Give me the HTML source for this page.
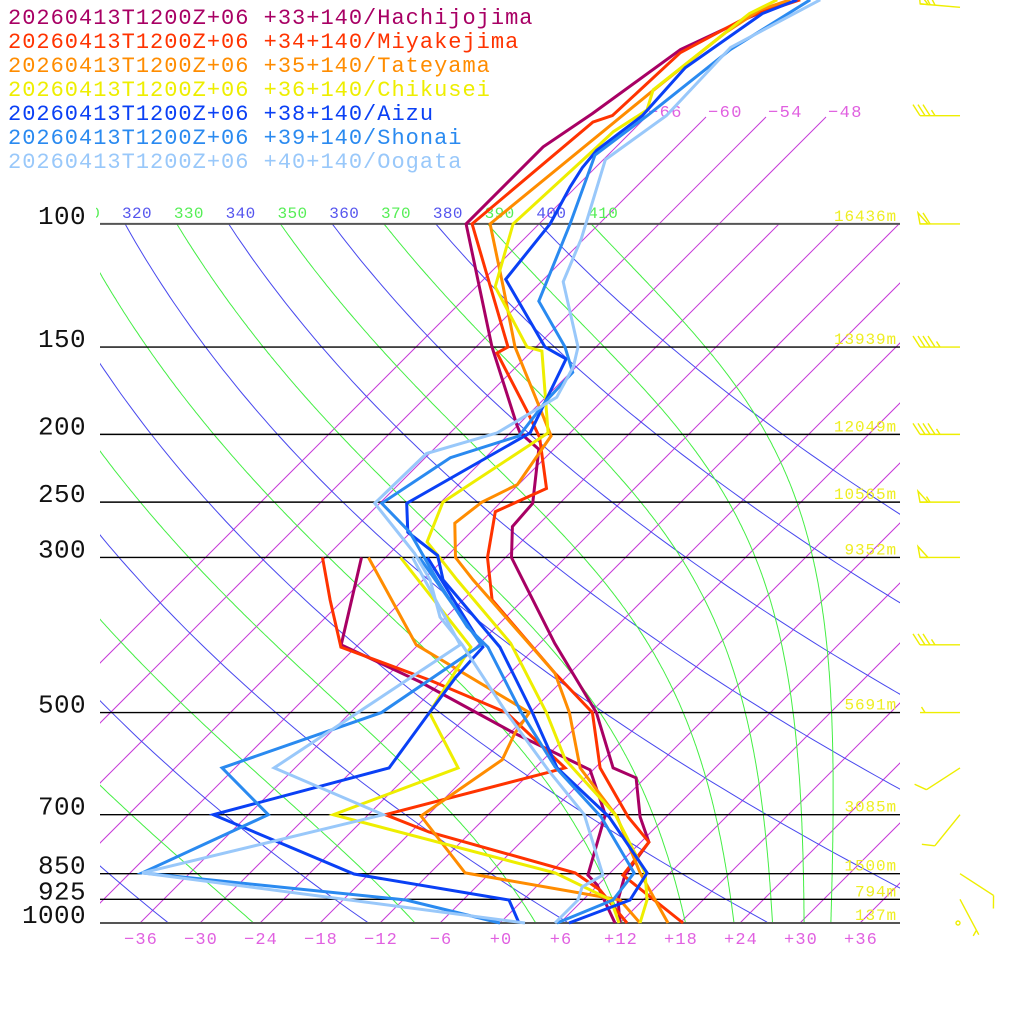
<!DOCTYPE html>
<html><head><meta charset="utf-8">
<style>
html,body{margin:0;padding:0;background:#fff}
svg{display:block}
text{font-family:"Liberation Mono","DejaVu Sans Mono",monospace}
</style></head>
<body>
<svg id="chart" width="1024" height="1024" viewBox="0 0 1024 1024">
<defs>
<clipPath id="plotClip"><rect x="100" y="224" width="800" height="699"/></clipPath>
<clipPath id="labelClip"><rect x="96" y="195" width="820" height="30"/></clipPath>
<clipPath id="pageClip"><rect x="0" y="0" width="1024" height="1024"/></clipPath>
</defs>
<rect x="0" y="0" width="1024" height="1024" fill="#fff"/>
<g id="grid" clip-path="url(#plotClip)"></g>
<g id="gridTop"></g>
<g id="hlines"></g>
<g id="labels"></g>
<g id="series" clip-path="url(#pageClip)"></g>
<g id="barbs"></g>
<g id="legend"></g>
</svg>
<script>
const NS = 'http://www.w3.org/2000/svg';

// ---- axis / grid data ----
const pressureLevels = [100, 150, 200, 250, 300, 500, 700, 850, 925, 1000];
const heightLabels = ['16436m', '13939m', '12049m', '10565m', '9352m', '5691m', '3085m', '1500m', '794m', '137m'];
const tempTicks = [-36, -30, -24, -18, -12, -6, 0, 6, 12, 18, 24, 30, 36];
const isoTemps = [-66, -60, -54, -48, -42, -36, -30, -24, -18, -12, -6, 0, 6, 12, 18, 24, 30, 36];
const isoTopLabels = [-66, -60, -54, -48];
const dryThetas = [240, 260, 280, 300, 320, 340, 360, 380, 400];
const moistThetas = [250, 270, 290, 310, 330, 350, 370, 390, 410];

// ---- stations ----
const stationNames = ['+33+140/Hachijojima', '+34+140/Miyakejima', '+35+140/Tateyama', '+36+140/Chikusei', '+38+140/Aizu', '+39+140/Shonai', '+40+140/Oogata'];
const stationColors = ['#a80064', '#ff3300', '#ff8c00', '#eeee00', '#0a40f5', '#2a8af0', '#99c8fa'];

// temperature profiles (hPa, degC)
const hachiP = [47.8, 50.6, 56.3, 69.5, 77.6, 100, 150, 194, 199, 210, 251, 271, 300, 398, 500, 600, 620, 705, 766, 854, 927, 1000];
const hachiT = [-63.3, -65.6, -69.3, -71.7, -73.3, -73.3, -58.4, -48.1, -47.0, -43.5, -38.7, -38.4, -35.4, -22.5, -11.4, -4.2, -0.9, 3.4, 6.8, 7.7, 9.5, 12.0];
const miyaP = [47.8, 50.6, 56.9, 70.0, 71.5, 100, 150, 153, 186, 202, 239, 258, 300, 345, 439, 500, 600, 705, 766, 854, 1000];
const miyaT = [-62.3, -65.9, -69.0, -69.5, -70.8, -72.7, -56.8, -57.3, -48.3, -44.6, -38.8, -41.6, -37.8, -33.1, -19.5, -11.8, -5.5, 2.2, 6.8, 7.5, 18.3];
const tateP = [47.8, 49.4, 53.3, 65.0, 100, 123, 150, 183, 201, 236, 250, 268, 300, 323, 439, 500, 600, 705, 848, 1000];
const tateT = [-63.3, -65.3, -66.5, -68.0, -70.9, -63.3, -56.1, -47.6, -43.6, -42.1, -43.9, -44.5, -41.0, -37.0, -19.5, -14.1, -7.5, 1.1, 9.0, 16.8];
const chikuP = [47.8, 50.0, 64.3, 68.7, 73.8, 77.6, 100, 123, 150, 152, 199, 250, 285, 300, 323, 398, 500, 584, 700, 848, 927, 1000];
const chikuT = [-64.6, -66.0, -68.0, -66.6, -67.8, -67.9, -68.6, -64.1, -54.9, -53.0, -44.2, -47.8, -45.4, -42.6, -38.6, -26.9, -16.4, -9.8, 0.7, 9.5, 12.4, 14.0];
const aizuP = [47.8, 50.0, 59.8, 70.0, 78.5, 83.1, 88.5, 100, 120, 150, 156, 199, 251, 276, 298, 323, 403, 500, 600, 705, 848, 927, 1000];
const aizuT = [-62.6, -64.7, -67.0, -66.5, -67.6, -67.3, -66.6, -64.9, -63.8, -53.1, -49.8, -46.0, -51.3, -48.3, -43.0, -40.0, -27.6, -17.8, -9.8, 0.3, 9.7, 10.7, 6.9];
const shonaiP = [47.8, 56.3, 70.0, 79.7, 100, 129, 150, 163, 179, 201, 216, 251, 276, 323, 377, 403, 500, 598, 705, 848, 927, 1000];
const shonaiT = [-61.3, -64.3, -66.0, -67.3, -62.9, -58.3, -51.1, -47.8, -47.6, -46.8, -51.5, -53.8, -48.1, -40.6, -32.9, -28.8, -18.9, -10.1, -0.5, 8.4, 9.0, 5.7];
const oogataP = [47.8, 55.9, 70.0, 80.9, 105, 121, 150, 160, 177, 199, 213, 251, 296, 323, 365, 400, 500, 604, 700, 854, 888, 927, 1000];
const oogataT = [-60.3, -64.5, -64.1, -65.8, -60.3, -57.8, -49.8, -48.3, -46.9, -49.3, -54.3, -54.5, -45.5, -41.3, -36.6, -31.6, -20.4, -10.5, -2.4, 5.5, 4.6, 5.5, 5.5];

// dewpoint profiles (hPa, degC)
const hachiDP = [300, 400, 452, 533, 604, 700, 854, 882, 1000];
const hachiTd = [-50.4, -43.7, -32.1, -17.9, -6.3, -0.3, 4.0, 5.9, 11.5];
const miyaDP = [300, 345, 403, 449, 500, 600, 610, 700, 741, 848, 897, 1000];
const miyaTd = [-54.3, -49.3, -43.5, -31.4, -20.4, -9.0, -10.4, -22.3, -16.2, 2.5, 6.7, 12.7];
const tateDP = [300, 400, 500, 535, 584, 703, 848, 927, 1000];
const tateTd = [-49.7, -36.2, -18.1, -17.5, -16.1, -18.6, -8.5, 9.7, 14.0];
const chikuDP = [300, 403, 500, 600, 700, 848, 927, 1000];
const chikuTd = [-46.5, -30.5, -28.1, -19.7, -27.5, 0.5, 8.8, 11.9];
const aizuDP = [300, 403, 445, 500, 600, 700, 851, 927, 1000];
const aizuTd = [-43.8, -29.3, -29.0, -28.1, -26.6, -39.5, -19.5, -1.4, 1.9];
const shonaiDP = [300, 400, 500, 600, 700, 848, 927, 1000];
const shonaiTd = [-44.6, -29.7, -32.9, -43.3, -34.0, -40.8, -11.7, 0.0];
const oogataDP = [300, 400, 600, 700, 848, 1000];
const oogataTd = [-45.3, -31.8, -38.1, -22.5, -40.8, 2.5];

// wind barbs (hPa, direction deg, speed kt)
const windP = [49, 70, 100, 150, 200, 250, 300, 400, 500, 600, 700, 850, 925, 1000];
const windDir = [275, 270, 270, 270, 270, 270, 270, 270, 270, 237, 219, 123, 152, 0];
const windSpd = [65, 35, 60, 45, 45, 55, 50, 35, 5, 10, 10, 10, 5, 0];

// ---- axis functions ----
function yP(p) { return 923 - 303.6 * Math.log(1000 / p); }
function xT(t, p) { return 500 + 10 * t + (923 - yP(p)); }

function mk(tag, attrs, parent) {
  const el = document.createElementNS(NS, tag);
  for (const k in attrs) el.setAttribute(k, attrs[k]);
  parent.appendChild(el);
  return el;
}
function txt(str, x, y, size, color, anchor, ls, parent) {
  const el = mk('text', {x: x, y: y, 'font-size': size, fill: color, 'text-anchor': anchor, 'letter-spacing': ls}, parent);
  el.textContent = str;
  return el;
}
const gGrid = document.getElementById('grid');
const gTop = document.getElementById('gridTop');
const gH = document.getElementById('hlines');
const gL = document.getElementById('labels');
const gS = document.getElementById('series');
const gB = document.getElementById('barbs');
const gLeg = document.getElementById('legend');

// isotherms
isoTemps.forEach(t => {
  const l = mk('line', {x1: xT(t, 1000), y1: yP(1000), x2: xT(t, 100), y2: yP(100), stroke: '#c63ad8', 'stroke-width': 1}, gGrid);
  
  
});
isoTopLabels.forEach(t => {
  const x0 = xT(t, 100), y0 = yP(100), y1 = 117;
  const l = mk('line', {x1: x0, y1: y0, x2: x0 + (y0 - y1), y2: y1, stroke: '#c63ad8', 'stroke-width': 1}, gTop);
  
  
  const tx = txt('\u2212' + Math.abs(t), x0 + (y0 - y1) + 2, 117, 17, '#e060e0', 'start', 1.4, gL);
  
  
});

function pathD(pts) { return pts.map((q, i) => (i ? 'L' : 'M') + q[0].toFixed(1) + ' ' + q[1].toFixed(1)).join(''); }
// dry adiabats
dryThetas.forEach(th => {
  const pts = [];
  for (let lp = Math.log(100); lp <= Math.log(1000) + 1e-9; lp += 0.02) {
    const p = Math.exp(lp);
    const t = th * Math.pow(p / 1000, 0.2857) - 273.15;
    pts.push([xT(t, p), yP(p)]);
  }
  const pa = mk('path', {d: pathD(pts), fill: 'none', stroke: '#4848ee', 'stroke-width': 1}, gGrid);
  
  
  const tl = txt(String(th), xT(th * Math.pow(0.1, 0.2857) - 273.15, 100) - 3, 218, 16, '#5555ee', 'start', 0.4, gL);
  tl.setAttribute('clip-path', 'url(#labelClip)');
  
  
});
// moist adiabats
moistThetas.forEach(th => {
  let T = th * Math.pow(0.1, 0.2857);
  const pts = [];
  const dl = 0.005;
  for (let lp = Math.log(100); lp <= Math.log(1000) + 1e-9; lp += dl) {
    const p = Math.exp(lp);
    pts.push([xT(T - 273.15, p), yP(p)]);
    const es = 6.112 * Math.exp(17.67 * (T - 273.15) / (T - 29.65));
    const rs = 0.622 * es / (p - es);
    const dT = (287 * T + 2.5e6 * rs) / (1005 + 2.5e6 * 2.5e6 * rs * 0.622 / (287 * T * T));
    T += dT * dl;
  }
  const pa = mk('path', {d: pathD(pts), fill: 'none', stroke: '#44ee44', 'stroke-width': 1}, gGrid);
  
  
  const tl = txt(String(th), xT(th * Math.pow(0.1, 0.2857) - 273.15, 100) - 3, 218, 16, '#55ee55', 'start', 0.4, gL);
  tl.setAttribute('clip-path', 'url(#labelClip)');
  
  
});

// pressure lines + labels + heights
pressureLevels.forEach((p, i) => {
  const edge = (p === 100 || p === 1000);
  const l = mk('line', {x1: 100, y1: yP(p), x2: 900, y2: yP(p), stroke: edge ? '#555' : '#000', 'stroke-width': edge ? 2 : 1.4}, gH);
  
  
  const pl = txt(String(p), 86, yP(p), 26, '#111', 'end', 0.4, gL);
  
  
  const hl = txt(heightLabels[i], 897, yP(p) - 3, 16, '#eeee22', 'end', 0.9, gL);
  
  
});
tempTicks.forEach(t => {
  const s = t < 0 ? '\u2212' + Math.abs(t) : '+' + t;
  const tl = txt(s, xT(t, 1000) + 1, 944, 17, '#e060e0', 'middle', 1.1, gL);
  
  
});

// soundings
const tempSeries = [[hachiP, hachiT], [miyaP, miyaT], [tateP, tateT], [chikuP, chikuT], [aizuP, aizuT], [shonaiP, shonaiT], [oogataP, oogataT]];
const dewSeries = [[hachiDP, hachiTd], [miyaDP, miyaTd], [tateDP, tateTd], [chikuDP, chikuTd], [aizuDP, aizuTd], [shonaiDP, shonaiTd], [oogataDP, oogataTd]];
for (let i = 0; i < 7; i++) {
  const [tp, tt] = tempSeries[i];
  const pa = mk('path', {d: pathD(tp.map((p, k) => [xT(tt[k], p), yP(p)])), fill: 'none', stroke: stationColors[i], 'stroke-width': 3, 'stroke-linejoin': 'miter'}, gS);
  
  
  const [dp, dt] = dewSeries[i];
  const pd = mk('path', {d: pathD(dp.map((p, k) => [xT(dt[k], p), yP(p)])), fill: 'none', stroke: stationColors[i], 'stroke-width': 3, 'stroke-linejoin': 'miter'}, gS);
  
  
}

// legend
stationNames.forEach((n, i) => {
  const t = txt('20260413T1200Z+06 ' + n, 8, 24 + 24 * i, 22, stationColors[i], 'start', 1.0, gLeg);
  
  
});

// wind barbs
windP.forEach((p, i) => {
  const y = yP(p), sx = 960;
  const g = mk('g', {stroke: '#eeee00', 'stroke-width': 1.4, fill: 'none'}, gB);
  
  
  if (windSpd[i] < 2.5) {
    mk('circle', {cx: sx - 2, cy: y, r: 2}, g);
    return;
  }
  const r = windDir[i] * Math.PI / 180;
  const u = [Math.sin(r), -Math.cos(r)];
  const pv = [-u[1], u[0]];
  const L = 40;
  const pt = d => [sx + u[0] * d, y + u[1] * d];
  const e = pt(L);
  mk('line', {x1: sx, y1: y, x2: e[0], y2: e[1]}, g);
  let rem = Math.round(windSpd[i] / 5) * 5;
  let pos = L;
  while (rem >= 50) {
    const a = pt(pos), b = pt(pos - 8), c = pt(pos + 2);
    mk('polygon', {points: a.join(',') + ' ' + b.join(',') + ' ' + (c[0] + pv[0] * 11) + ',' + (c[1] + pv[1] * 11)}, g);
    pos -= 10; rem -= 50;
  }
  while (rem >= 10) {
    const a = pt(pos), b = pt(pos + 7);
    mk('line', {x1: a[0], y1: a[1], x2: b[0] + pv[0] * 11, y2: b[1] + pv[1] * 11}, g);
    pos -= 5; rem -= 10;
  }
  if (rem >= 5) {
    if (pos === L) pos -= 5;
    const a = pt(pos), b = pt(pos + 3.5);
    mk('line', {x1: a[0], y1: a[1], x2: b[0] + pv[0] * 5.5, y2: b[1] + pv[1] * 5.5}, g);
  }
});
</script>
</body></html>
